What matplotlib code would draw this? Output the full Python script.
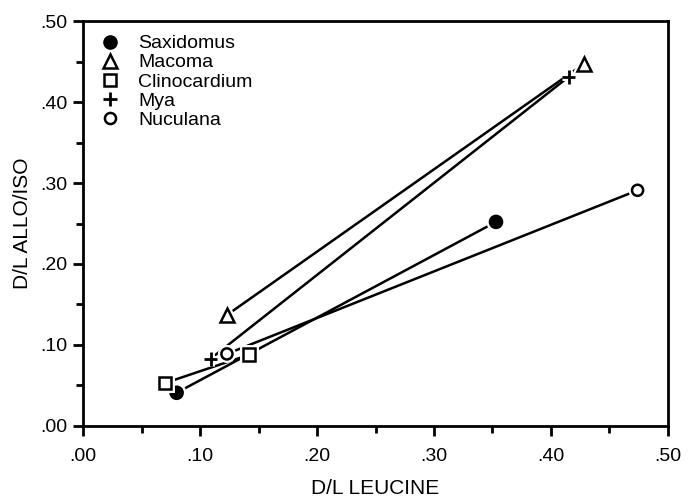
import matplotlib
matplotlib.use("Agg")
import matplotlib.pyplot as plt
import matplotlib.patheffects as pe
from matplotlib.ticker import MultipleLocator, FuncFormatter

plt.rcParams['font.family'] = ['Liberation Sans', 'DejaVu Sans']

species = ["Saxidomus", "Macoma", "Clinocardium", "Mya", "Nuculana"]
leucine = {
    "Saxidomus": [0.080, 0.353],
    "Macoma": [0.123, 0.428],
    "Clinocardium": [0.070, 0.142],
    "Mya": [0.109, 0.415],
    "Nuculana": [0.123, 0.474],
}
allo_iso = {
    "Saxidomus": [0.041, 0.252],
    "Macoma": [0.137, 0.447],
    "Clinocardium": [0.053, 0.088],
    "Mya": [0.083, 0.431],
    "Nuculana": [0.089, 0.291],
}
styles = {
    "Saxidomus": dict(marker='o', ms=9, mfc='black', mew=1.5),
    "Macoma": dict(marker='^', ms=10, mfc='white', mew=1.8),
    "Clinocardium": dict(marker='s', ms=9, mfc='white', mew=1.8),
    "Mya": dict(marker='+', ms=10, mfc='none', mew=2.0),
    "Nuculana": dict(marker='o', ms=8, mfc='white', mew=1.8),
}

fig = plt.figure(figsize=(6.89, 4.98), dpi=100)
ax = fig.add_axes([0.1205, 0.1446, 0.849, 0.8132])

halo = [pe.withStroke(linewidth=5, foreground='white')]
for sp in species:
    ax.plot(leucine[sp], allo_iso[sp], color='black', lw=1.8, zorder=2,
            solid_capstyle='butt')
handles = []
for sp in species:
    st = styles[sp]
    h, = ax.plot(leucine[sp], allo_iso[sp], ls='none', color='black',
                 mec='black', zorder=3, label=sp, **st)
    h.set_path_effects(halo)
    handles.append(h)

ax.set_xlim(0, 0.5)
ax.set_ylim(0, 0.5)
ax.xaxis.set_major_locator(MultipleLocator(0.1))
ax.xaxis.set_minor_locator(MultipleLocator(0.05))
ax.yaxis.set_major_locator(MultipleLocator(0.1))
ax.yaxis.set_minor_locator(MultipleLocator(0.05))
fmt = FuncFormatter(lambda v, p: ("%.2f" % v)[1:] if v < 1 else "%.2f" % v)
ax.xaxis.set_major_formatter(fmt)
ax.yaxis.set_major_formatter(fmt)
ax.tick_params(axis='x', which='major', direction='out', length=7, width=2,
               labelsize=14, pad=9)
ax.tick_params(axis='y', which='major', direction='out', length=7, width=2,
               labelsize=14, pad=4)
ax.tick_params(which='minor', direction='out', length=5, width=2)
for s in ax.spines.values():
    s.set_linewidth(2)

ax.set_xlabel("D/L LEUCINE", fontsize=15, labelpad=10)
ax.set_ylabel("D/L ALLO/ISO", fontsize=15, labelpad=6)

leg = ax.legend(handles=handles, loc='upper left', frameon=False,
                fontsize=14, handletextpad=0.95, labelspacing=0.08,
                borderaxespad=0.2, handlelength=1.0,
                bbox_to_anchor=(0.01, 0.995))
for lh in leg.legend_handles:
    lh.set_path_effects([])

fig.savefig("out.png", dpi=100)
